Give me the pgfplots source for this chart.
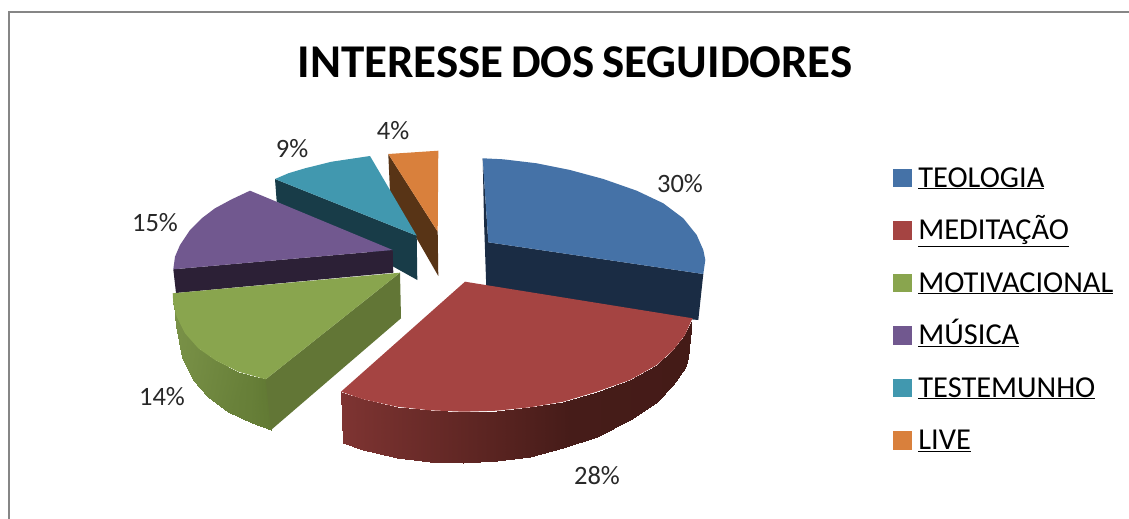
\documentclass[border=0pt]{standalone}
\usepackage{pgfplots}
\pgfplotsset{compat=1.18}
\usepackage{fontspec}
\setmainfont{Carlito}
\definecolor{cblue}{RGB}{69,114,167}
\definecolor{cblued}{RGB}{26,44,68}
\definecolor{cred}{RGB}{165,68,66}
\definecolor{cgreen}{RGB}{137,165,78}
\definecolor{cgreend}{RGB}{98,118,54}
\definecolor{cpurple}{RGB}{113,88,143}
\definecolor{cpurpled}{RGB}{44,32,54}
\definecolor{cteal}{RGB}{65,152,175}
\definecolor{cteald}{RGB}{24,60,72}
\definecolor{corange}{RGB}{217,128,60}
\definecolor{coranged}{RGB}{88,52,22}
\definecolor{cborder}{RGB}{134,134,134}
\definecolor{ctext}{RGB}{40,40,40}
\begin{document}
\begin{tikzpicture}
\begin{axis}[
  scale only axis, width=1129pt, height=519pt,
  xmin=0, xmax=1129, ymin=0, ymax=519, y dir=reverse,
  hide axis, clip=true,
  colormap={pie}{rgb255(173)=(122,146,72) rgb255(271)=(98,122,52) rgb255(541)=(126,52,50) rgb255(700)=(88,35,32) rgb255(770)=(70,28,25) rgb255(892)=(68,27,23)},
  point meta min=173, point meta max=892,
  legend image code/.code={\fill[#1] (0pt,-6.5pt) rectangle (17.5pt,11pt);},
  legend cell align=left,
  legend style={at={(axis cs:893,167)}, anchor=north west, draw=none, fill=none,
    font=\fontsize{30.4}{32}\selectfont, inner sep=0pt, outer sep=0pt,
    row sep=26.5pt,
    nodes={inner sep=0pt, outer sep=0pt, text height=20pt, text depth=6pt},
    /tikz/column 1/.style={column sep=7.5pt}},
]
\addlegendimage{cblue}\addlegendentry{\underline{TEOLOGIA}}
\addlegendimage{cred}\addlegendentry{\underline{MEDITAÇÃO}}
\addlegendimage{cgreen}\addlegendentry{\underline{MOTIVACIONAL}}
\addlegendimage{cpurple}\addlegendentry{\underline{MÚSICA}}
\addlegendimage{cteal}\addlegendentry{\underline{TESTEMUNHO}}
\addlegendimage{corange}\addlegendentry{\underline{LIVE}}
% page and frame
\addplot[forget plot, draw=none, fill=white] coordinates {(0,0)(1129,0)(1129,519)(0,519)} --cycle;
\addplot[forget plot, draw=cborder, line width=2pt] coordinates {(9,519)(9,12.5)(1129,12.5)};
% LIVE 4%
\addplot[forget plot, draw=none, fill=coranged] coordinates {(388.3,154)(437.7,231.7)(438.3,276)(390,192)} --cycle;
\addplot[forget plot, draw=none, fill=corange] coordinates {(388.3,154)(438.3,150.7)(437.7,231.7)} --cycle;
% TESTEMUNHO 9%
\addplot[forget plot, draw=none, fill=cteald] coordinates {(275,179)(416.7,235.7)(417.3,280)(276.7,201.7)} --cycle;
\addplot[forget plot, draw=none, fill=cteal] coordinates {(416.7,235.7)(370,156)(331.7,161.7)(305,168.3)(288.3,173.3)(275,179)} --cycle;
% MUSICA 15%
\addplot[forget plot, draw=none, fill=cpurpled] coordinates {(173.3,269.3)(392.7,250)(393.3,272.7)(176,293)} --cycle;
\addplot[forget plot, draw=none, fill=cpurple] coordinates {(392.7,250)(250,190.7)(231.7,199.3)(215,208.3)(201.7,218.3)(190,230)(180,245)(175,256.7)(173.3,269.3)} --cycle;
% TEOLOGIA 30%
\addplot[forget plot, draw=none, fill=cblued] coordinates {(482.7,158.3)(488.3,242.3)(703.3,274)(698.3,320)(486.7,300)(484,220)} --cycle;
\addplot[forget plot, draw=none, fill=cblue] coordinates {(488.3,242.3)(482.7,158.3)(503.3,159.3)(536.7,163.3)(570,170)(603.3,179)(636.7,190.7)(663.3,203.3)(683.3,218.3)(696.7,235)(703.3,250)(705.3,260)(703.3,274)} --cycle;
% MOTIVACIONAL 14%
\addplot[forget plot, surf, shader=interp, mesh/rows=2, point meta=\thisrow{c}] table {
x y c
173.3 303.3 173
176.7 316.7 177
185 333.3 185
198.3 348.3 198
215 360 215
238.3 371.7 238
253 376 253
265.7 379.3 271
173.5 304 173
176.3 326 177
181.7 356.7 185
193.3 380 198
208.3 396.7 215
228.3 411.7 238
251.7 423.3 253
271 430 271
};
\addplot[forget plot, draw=none, fill=cgreend] coordinates {(265.7,379.3)(400,272.7)(401,318.3)(271,430)} --cycle;
\addplot[forget plot, draw=none, fill=cgreen] coordinates {(400,272.7)(172.7,293.3)(173.3,303.3)(176.7,316.7)(185,333.3)(198.3,348.3)(215,360)(238.3,371.7)(265.7,379.3)} --cycle;
% MEDITACAO 28%
\addplot[forget plot, surf, shader=interp, mesh/rows=2, point meta=\thisrow{c}] table {
x y c
341 391.7 541
363.3 399.3 563
396.7 406.7 597
430 410.3 630
463.3 411.7 663
496.7 410.7 697
530 407.3 730
563.3 401.7 763
596.7 391.7 797
630 380 830
656.7 365 857
673.3 350 873
685 335 885
691.7 320 892
343.3 443.3 541
363.3 450 563
396.7 457.7 597
430 461.7 630
463.3 463 663
496.7 461.3 697
530 456.7 730
563.3 448.3 763
596.7 436.7 797
630 420 830
656.7 401.7 857
673.3 385 873
685 368.3 885
688.3 358 892
};
\addplot[forget plot, draw=none, fill=cred] coordinates {(465,281.7)(692.7,318.3)(691.7,320)(685,335)(673.3,350)(656.7,365)(630,380)(596.7,391.7)(563.3,401.7)(530,407.3)(496.7,410.7)(463.3,411.7)(430,410.3)(396.7,406.7)(363.3,399.3)(341,391.7)} --cycle;
% texts
\node[font=\bfseries\fontsize{47}{50}\selectfont, text=black] at (axis cs:575,62) {\spaceskip=7.6pt INTERESSE DOS SEGUIDORES};
\begin{scope}[every node/.style={font=\fontsize{26.5}{28}\selectfont, text=ctext, inner sep=0pt}]
\node at (axis cs:680,184) {30\%};
\node at (axis cs:597,476) {28\%};
\node at (axis cs:162,397) {14\%};
\node at (axis cs:155,223) {15\%};
\node at (axis cs:292,149) {9\%};
\node at (axis cs:393,131) {4\%};
\end{scope}
\end{axis}
\end{tikzpicture}
\end{document}
